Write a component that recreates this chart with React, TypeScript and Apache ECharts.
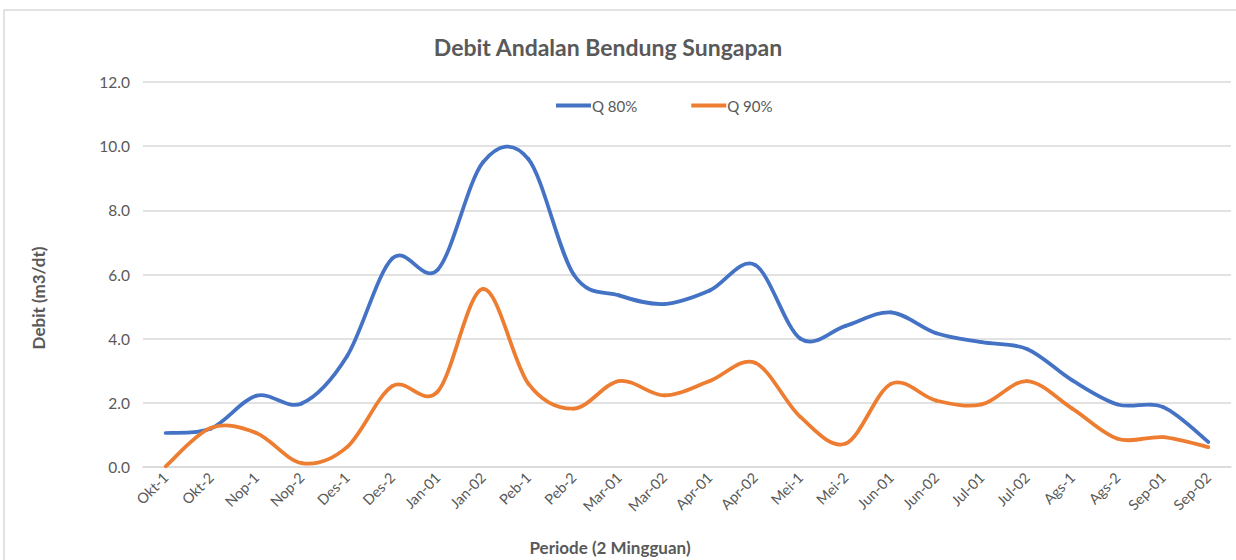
import React, { useEffect, useRef } from "react";
import * as echarts from "echarts";

const categories = [
  "Okt-1", "Okt-2", "Nop-1", "Nop-2", "Des-1", "Des-2", "Jan-01", "Jan-02",
  "Peb-1", "Peb-2", "Mar-01", "Mar-02", "Apr-01", "Apr-02", "Mei-1", "Mei-2",
  "Jun-01", "Jun-02", "Jul-01", "Jul-02", "Ags-1", "Ags-2", "Sep-01", "Sep-02",
];

const q80 = [
  1.06, 1.2, 2.22, 1.98, 3.45, 6.5, 6.15, 9.5, 9.6, 6.0, 5.35, 5.08,
  5.5, 6.3, 4.0, 4.4, 4.82, 4.17, 3.89, 3.68, 2.7, 1.95, 1.87, 0.78,
];

const q90 = [
  0.02, 1.22, 1.06, 0.12, 0.62, 2.52, 2.35, 5.55, 2.6, 1.82, 2.68, 2.23,
  2.68, 3.25, 1.56, 0.73, 2.59, 2.07, 1.95, 2.68, 1.82, 0.88, 0.93, 0.62,
];

const seriesNames = ["Q 80%", "Q 90%"];
const seriesColors = ["#4472C4", "#ED7D31"];
const titleText = "Debit Andalan Bendung Sungapan";
const yAxisTitle = "Debit (m3/dt)";
const xAxisTitle = "Periode (2 Mingguan)";

const FONT = "Lato, 'Open Sans', sans-serif";
const GRAY = "#595959";

function smoothSeries(name: string, values: number[], color: string) {
  const n = values.length;
  return {
    name,
    type: "custom",
    data: values.map((v, i) => [i, v]),
    encode: { x: 0, y: 1 },
    itemStyle: { color },
    clip: false,
    renderItem: (params: any, api: any) => {
      const i = params.dataIndex;
      if (i >= n - 1) return { type: "group", children: [] };
      const pt = (k: number) => {
        const kk = Math.max(0, Math.min(n - 1, k));
        return api.coord([kk, values[kk]]);
      };
      const p0 = pt(i - 1);
      const p1 = pt(i);
      const p2 = pt(i + 1);
      const p3 = pt(i + 2);
      const t = 1 / 6;
      return {
        type: "bezierCurve",
        shape: {
          x1: p1[0],
          y1: p1[1],
          cpx1: p1[0] + (p2[0] - p0[0]) * t,
          cpy1: p1[1] + (p2[1] - p0[1]) * t,
          cpx2: p2[0] - (p3[0] - p1[0]) * t,
          cpy2: p2[1] - (p3[1] - p1[1]) * t,
          x2: p2[0],
          y2: p2[1],
        },
        style: { stroke: color, lineWidth: 3.75, fill: "none", lineCap: "round" },
      };
    },
  };
}

export default function App() {
  const ref = useRef<HTMLDivElement>(null);

  useEffect(() => {
    document.body.style.margin = "0";
    if (!ref.current) return;
    const chart = echarts.init(ref.current, null, { renderer: "svg" });
    chart.setOption({
      animation: false,
      backgroundColor: "#ffffff",
      textStyle: { fontFamily: FONT },
      title: {
        text: titleText,
        left: 603,
        top: 30,
        textAlign: "center",
        textStyle: { fontFamily: FONT, fontSize: 23, fontWeight: "bold", color: GRAY },
      },
      legend: {
        left: 551,
        top: 93,
        itemWidth: 35,
        itemHeight: 4,
        itemGap: 54,
        icon: "rect",
        textStyle: { fontFamily: FONT, fontSize: 15, color: GRAY, padding: [0, 0, 0, -4] },
        data: seriesNames.map((nm, k) => ({ name: nm, itemStyle: { color: seriesColors[k] } })),
      },
      grid: { left: 143, right: 5, top: 82, bottom: 93, containLabel: false },
      xAxis: {
        type: "category",
        data: categories,
        boundaryGap: true,
        axisLine: { show: true, lineStyle: { color: "#d9d9d9", width: 1.5 } },
        axisTick: { show: false },
        axisLabel: {
          rotate: 45,
          fontFamily: FONT,
          fontSize: 14.5,
          color: GRAY,
          margin: 8,
          interval: 0,
        },
      },
      yAxis: {
        type: "value",
        min: 0,
        max: 12,
        interval: 2,
        axisLine: { show: false },
        axisTick: { show: false },
        splitLine: { lineStyle: { color: "#d9d9d9", width: 1.5 } },
        axisLabel: {
          fontFamily: FONT,
          fontSize: 15.5,
          color: GRAY,
          margin: 13,
          formatter: (v: number) => v.toFixed(1),
        },
      },
      graphic: [
        {
          type: "rect",
          shape: { x: 4, y: 10, width: 1240, height: 560 },
          style: { fill: "none", stroke: "#d9d9d9", lineWidth: 1.5 },
          silent: true,
          z: -1,
        },
        {
          type: "text",
          x: 38,
          y: 298,
          rotation: Math.PI / 2,
          style: {
            text: yAxisTitle,
            fontFamily: FONT,
            fontSize: 17,
            fontWeight: "bold",
            fill: GRAY,
            align: "center",
            verticalAlign: "middle",
          },
        },
        {
          type: "text",
          x: 610,
          y: 547,
          style: {
            text: xAxisTitle,
            fontFamily: FONT,
            fontSize: 17,
            fontWeight: "bold",
            fill: GRAY,
            align: "center",
            verticalAlign: "middle",
          },
        },
      ],
      series: [
        smoothSeries(seriesNames[0], q80, seriesColors[0]),
        smoothSeries(seriesNames[1], q90, seriesColors[1]),
      ],
    });
    return () => chart.dispose();
  }, []);

  return <div ref={ref} style={{ width: 1236, height: 560 }} />;
}
